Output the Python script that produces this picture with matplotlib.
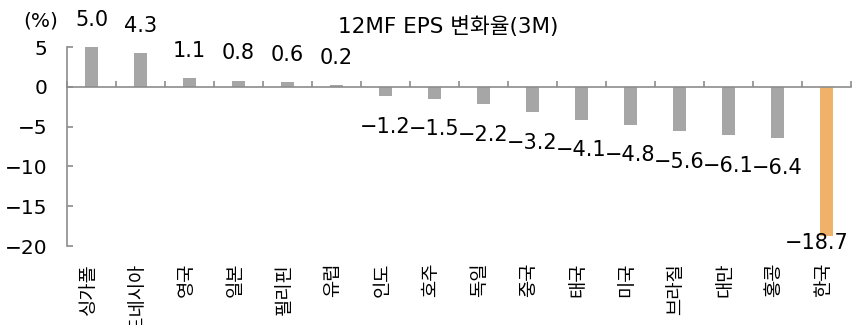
import matplotlib
matplotlib.use('Agg')
from matplotlib import pyplot as plt
import matplotlib.transforms as mtransforms
import numpy as np

plt.rcParams['font.family'] = ['DejaVu Sans', 'Noto Sans CJK KR']
plt.rcParams['axes.unicode_minus'] = True

# 12MF EPS change over 3 months, by market (%)
countries = ['싱가폴', '인도네시아', '영국', '일본', '필리핀', '유럽', '인도', '호주',
             '독일', '중국', '태국', '미국', '브라질', '대만', '홍콩', '한국']
eps_chg = [5.0, 4.3, 1.1, 0.8, 0.6, 0.2, -1.2, -1.5, -2.2, -3.2, -4.1, -4.8,
           -5.6, -6.1, -6.4, -18.7]
highlight = '한국'

gray = '#a6a6a6'
orange = '#f0b268'
axis_col = '#8c8c8c'

fig = plt.figure(figsize=(8.62, 3.25), dpi=100)
ax = fig.add_axes([0.0777, 0.243, 0.9095, 0.612])

x = np.arange(len(countries))
colors = [orange if c == highlight else gray for c in countries]
ax.bar(x, eps_chg, width=0.27, color=colors, zorder=2)

ax.set_xlim(-0.5, len(countries) - 0.5)
ax.set_ylim(-20, 5)
ax.set_yticks([5, 0, -5, -10, -15, -20])

for s in ['top', 'right']:
    ax.spines[s].set_visible(False)
ax.spines['bottom'].set_position(('data', 0))
for s in ['left', 'bottom']:
    ax.spines[s].set_color(axis_col)
    ax.spines[s].set_linewidth(1.2)

# category separators on the zero line, pointing up
ax.set_xticks(np.arange(len(countries) + 1) - 0.5)
ax.tick_params(axis='x', direction='in', length=4.5, width=1.2,
               color=axis_col, labelbottom=False)
ax.tick_params(axis='y', direction='in', length=4.5, width=1.2,
               color=axis_col, labelsize=14.5, pad=14)

# country names under the plot area
trans = mtransforms.blended_transform_factory(ax.transData, ax.transAxes)
for xi, name in zip(x, countries):
    ax.text(xi - 0.07, -0.085, name, transform=trans, rotation=90,
            ha='center', va='top', fontsize=13.5, family='Noto Sans CJK KR')

# value labels, kept inside the plot area
labels = []
for xi, v in zip(x, eps_chg):
    if v >= 0:
        y = v + 3.4
    else:
        y = max(v - 3.8, -19.6)
    t = ax.text(xi, y, f'{v:.1f}'.replace('-', '\u2212'), ha='center',
                va='center', fontsize=15)
    labels.append(t)

fig.canvas.draw()
r = fig.canvas.get_renderer()
ax_right = ax.get_window_extent(r).x1
for t in labels:
    over = t.get_window_extent(r).x1 - ax_right
    if over > 0:
        t.set_transform(t.get_transform() +
                        mtransforms.Affine2D().translate(-over - 2, 0))

fig.text(0.52, 0.92, '12MF EPS 변화율(3M)', ha='center', va='center',
         fontsize=15.5)
fig.text(0.027, 0.935, '(%)', ha='left', va='center', fontsize=14.5)

fig.savefig('out.png', dpi=100)
